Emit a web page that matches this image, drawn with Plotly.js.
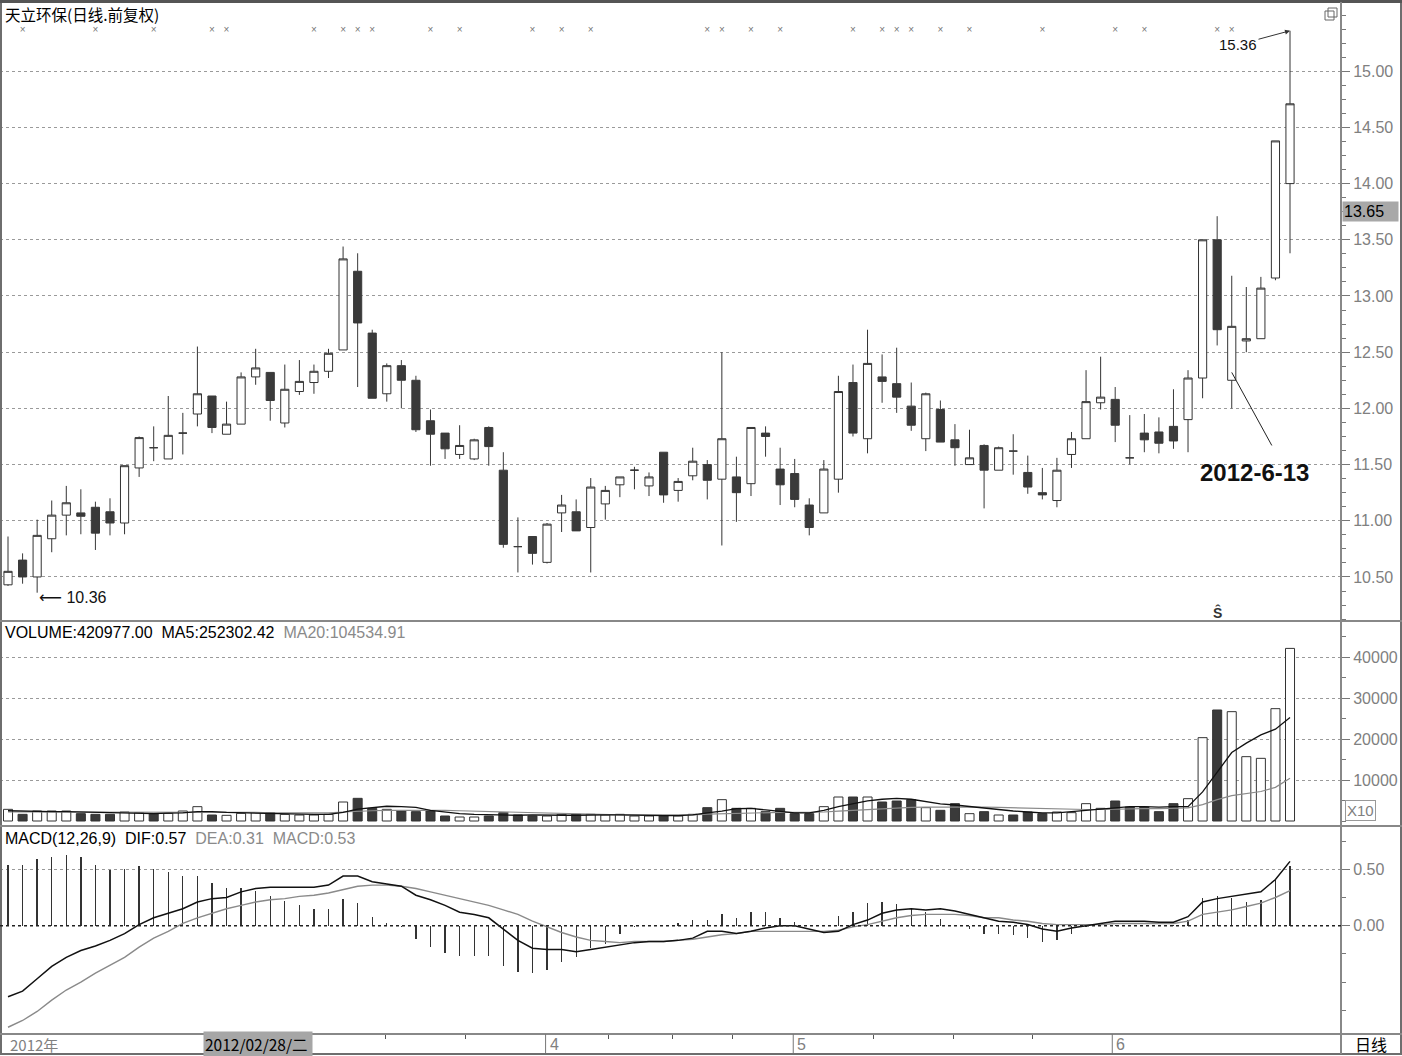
<!DOCTYPE html>
<html><head><meta charset="utf-8">
<script src="https://cdn.plot.ly/plotly-3.0.1.min.js"></script>
<style>html,body{margin:0;padding:0;background:#fff;}#chart{width:1402px;height:1056px;}</style>
</head><body><div id="chart"></div>
<script>
// ---- Data (天立环保 daily, 2012) ----
const openP  = [10.43,10.65,10.50,10.84,11.05,11.07,11.12,11.08,10.98,11.47,11.65,11.55,11.78,11.95,12.11,11.77,11.86,12.28,12.32,11.87,12.15,12.23,12.33,12.52,13.22,12.67,12.13,12.38,12.25,11.89,11.78,11.59,11.55,11.83,11.45,10.77,10.86,10.63,11.07,11.08,10.94,11.15,11.32,11.45,11.31,11.61,11.27,11.40,11.50,11.37,11.39,11.33,11.78,11.46,11.42,11.14,11.07,11.37,12.23,11.73,12.28,12.22,12.02,11.73,11.99,11.72,11.50,11.67,11.45,11.62,11.43,11.25,11.18,11.59,11.73,12.05,12.08,11.56,11.78,11.79,11.84,11.90,12.27,13.50,12.25,12.60,12.62,13.16,14.00];
const highP  = [10.86,10.71,11.01,11.18,11.31,11.28,11.17,11.20,11.49,11.75,11.84,12.11,11.96,12.55,12.11,12.06,12.32,12.53,12.32,12.39,12.43,12.39,12.53,13.44,13.38,12.70,12.40,12.43,12.29,11.99,11.78,11.85,11.73,11.84,11.61,11.03,10.86,10.98,11.23,11.19,11.38,11.31,11.39,11.48,11.43,11.61,11.38,11.65,11.54,12.50,11.57,11.83,11.84,11.65,11.55,11.20,11.54,12.29,12.39,12.70,12.48,12.54,12.23,12.14,12.07,11.86,11.81,11.68,11.66,11.77,11.58,11.47,11.56,11.79,12.34,12.46,12.19,11.94,11.95,11.92,12.17,12.34,13.50,13.71,13.18,13.08,13.17,14.38,15.36];
const lowP   = [10.42,10.44,10.36,10.72,10.87,10.88,10.74,10.87,10.88,11.39,11.53,11.55,11.59,11.84,11.78,11.77,11.86,12.21,11.89,11.83,12.12,12.13,12.27,12.52,12.19,12.09,12.06,12.00,11.79,11.49,11.55,11.55,11.54,11.49,10.76,10.54,10.61,10.62,10.90,10.91,10.54,11.01,11.21,11.28,11.22,11.16,11.17,11.36,11.19,10.78,10.99,11.22,11.57,11.14,11.12,10.87,11.07,11.25,11.75,11.60,12.05,11.96,11.80,11.62,11.70,11.49,11.50,11.11,11.45,11.41,11.24,11.19,11.12,11.47,11.73,11.99,11.70,11.50,11.61,11.60,11.64,11.61,12.09,12.56,12.00,12.50,12.62,13.14,13.38];
const closeP = [10.55,10.50,10.87,11.05,11.16,11.04,10.89,10.98,11.49,11.74,11.65,11.76,11.78,12.13,11.83,11.86,12.28,12.36,12.07,12.17,12.24,12.33,12.49,13.33,12.76,12.09,12.38,12.25,11.81,11.77,11.64,11.67,11.72,11.66,10.79,10.77,10.71,10.97,11.14,10.91,11.30,11.27,11.39,11.45,11.39,11.23,11.35,11.53,11.36,11.73,11.25,11.83,11.75,11.32,11.19,10.94,11.46,12.15,11.78,12.40,12.24,12.10,11.85,12.13,11.70,11.65,11.56,11.45,11.65,11.62,11.30,11.23,11.45,11.73,12.06,12.10,11.85,11.56,11.72,11.69,11.71,12.27,13.50,12.70,12.73,12.62,13.07,14.38,14.71];
// volume shown in the panel's X10 units
const volume = [2846,1626,2439,2439,2439,1789,1626,1626,2195,2033,1789,1870,2439,3496,1463,1382,1870,2033,2033,1626,1463,1463,1626,4634,5528,3089,2846,2439,2276,2439,1220,976,976,1220,2033,1463,1220,1220,1626,1626,1626,1463,1626,1220,1220,1220,1220,1626,3252,5203,3089,3089,2276,3089,1789,1789,3496,5854,5854,5854,4634,4878,5203,3252,2602,4228,1789,2276,1463,1463,2195,1789,2195,2033,4228,3089,4878,3415,3415,2276,4228,5447,20325,27073,26667,15691,15285,27398,42098];
const volMA5 = [2500,2400,2400,2300,2300,2200,2100,2000,1900,1800,1800,1900,2000,2300,2300,2100,2000,1900,1900,1800,1700,1600,1600,2100,2900,3300,3600,3500,3300,2600,2200,1800,1600,1500,1400,1400,1500,1400,1400,1400,1500,1500,1500,1400,1300,1300,1300,1500,2000,2400,3000,3100,2700,2400,2000,2000,2600,3500,4200,4900,5300,5500,5300,4700,4200,3900,3500,3250,2700,2440,2200,2000,2000,2280,2700,3000,3250,3500,3500,3400,3500,3500,7100,11900,16700,19000,21000,22400,25230];
const volMA20 = [2200,2200,2200,2200,2200,2200,2200,2100,2100,2100,2100,2100,2100,2100,2100,2100,2100,2100,2000,2000,2000,2000,2000,2200,2400,2500,2600,2600,2700,2700,2600,2500,2400,2300,2200,2100,2000,1900,1800,1700,1600,1600,1500,1500,1500,1500,1500,1500,1700,1800,1900,2000,2000,2100,2100,2100,2200,2400,2600,2800,3000,3100,3300,3400,3400,3500,3500,3400,3300,3200,3100,3000,2900,2800,2800,2800,2900,2900,3000,3000,3100,3200,4000,5200,6200,6700,7200,8200,10453];
const dif = [-0.63,-0.58,-0.47,-0.36,-0.28,-0.22,-0.18,-0.13,-0.07,0.01,0.07,0.11,0.15,0.21,0.24,0.25,0.30,0.33,0.34,0.34,0.34,0.34,0.36,0.44,0.44,0.39,0.37,0.35,0.27,0.23,0.18,0.12,0.10,0.07,-0.03,-0.13,-0.20,-0.21,-0.21,-0.23,-0.21,-0.19,-0.17,-0.15,-0.14,-0.14,-0.13,-0.11,-0.05,-0.05,-0.07,-0.05,-0.02,0.00,0.00,-0.03,-0.06,-0.05,0.01,0.05,0.11,0.14,0.15,0.14,0.15,0.13,0.10,0.07,0.04,0.03,0.01,-0.03,-0.05,-0.02,0.00,0.02,0.04,0.04,0.04,0.03,0.03,0.08,0.21,0.24,0.26,0.28,0.30,0.41,0.57];
const dea = [-0.90,-0.84,-0.76,-0.66,-0.57,-0.50,-0.42,-0.35,-0.28,-0.19,-0.11,-0.05,0.02,0.07,0.11,0.15,0.18,0.21,0.23,0.24,0.26,0.27,0.29,0.32,0.35,0.36,0.36,0.35,0.33,0.30,0.27,0.24,0.21,0.18,0.14,0.10,0.04,-0.01,-0.06,-0.10,-0.13,-0.14,-0.15,-0.14,-0.14,-0.14,-0.13,-0.12,-0.10,-0.08,-0.07,-0.05,-0.05,-0.05,-0.05,-0.05,-0.05,-0.04,-0.01,0.01,0.04,0.07,0.09,0.10,0.10,0.10,0.09,0.07,0.07,0.05,0.04,0.02,0.01,0.01,0.01,0.01,0.02,0.02,0.02,0.02,0.02,0.04,0.10,0.12,0.14,0.17,0.20,0.25,0.31];
const macdHist = [0.54,0.54,0.59,0.61,0.63,0.61,0.54,0.49,0.50,0.53,0.50,0.48,0.44,0.44,0.38,0.33,0.33,0.31,0.26,0.22,0.18,0.15,0.15,0.24,0.20,0.08,0.02,-0.01,-0.12,-0.19,-0.24,-0.27,-0.27,-0.27,-0.36,-0.41,-0.42,-0.39,-0.32,-0.28,-0.20,-0.16,-0.07,-0.01,0.01,0.00,0.02,0.05,0.05,0.10,0.07,0.12,0.12,0.07,0.03,0.00,0.00,0.09,0.12,0.20,0.21,0.19,0.15,0.12,0.06,0.01,-0.03,-0.07,-0.07,-0.08,-0.11,-0.14,-0.13,-0.07,-0.01,0.01,0.01,0.00,0.00,0.00,0.01,0.05,0.25,0.26,0.25,0.21,0.23,0.41,0.53];
// info-mine "×" markers (bar index)
const mineIdx = [1,6,10,14,15,21,23,24,25,29,31,36,38,40,48,49,51,53,58,60,61,62,64,66,71,76,78,83,84];
// axis ticks / labels
const priceTicks = [10.5,11,11.5,12,12.5,13,13.5,14,14.5,15];
const priceTickText = ['10.50','11.00','11.50','12.00','12.50','13.00','13.50','14.00','14.50','15.00'];
const volTicks = [10000,20000,30000,40000];
const volTickText = ['10000','20000','30000','40000'];
const macdTicks = [0,0.5];
const macdTickText = ['0.00','0.50'];
const weekTickPos = [25.9,31.4,41.2,45.6,49.7,59.4,64.9,70.3];
const monthTickPos = [36.9,53.9,75.8];
const monthTickText = ['4','5','6'];

// ---- helpers ----
const W = 1402, H = 1056;
const px = v => v / W;
const py = v => 1 - v / H;
const xIdx = openP.map((_, i) => i);
const isUp = closeP.map((c, i) => c > openP[i] || (c === openP[i] && i > 0 && c >= closeP[i - 1]));
const DARK = '#3a3a3a';
const FONT = 'Liberation Sans, Arial, sans-serif';
const CJK = 'Noto Sans CJK SC, sans-serif';
const GRAY = '#808080';

const traces = [
  {type:'candlestick', x:xIdx, open:openP, high:highP, low:lowP, close:closeP, xaxis:'x', yaxis:'y',
   increasing:{line:{color:'#333', width:1}, fillcolor:'#ffffff'},
   decreasing:{line:{color:DARK, width:1}, fillcolor:DARK},
   whiskerwidth:0, hoverinfo:'skip', showlegend:false},
  {type:'scatter', mode:'text', x:mineIdx, y:mineIdx.map(() => 15.36), text:mineIdx.map(() => '×'),
   textfont:{size:10, color:'#777', family:FONT}, xaxis:'x', yaxis:'y', hoverinfo:'skip', showlegend:false},
  {type:'bar', x:xIdx, y:volume, width:0.62, xaxis:'x', yaxis:'y2',
   marker:{color:isUp.map(u => u ? '#ffffff' : DARK), line:{color:'#333', width:1}},
   hoverinfo:'skip', showlegend:false},
  {type:'scatter', mode:'lines', x:xIdx, y:volMA20, line:{color:'#8a8a8a', width:1.2}, xaxis:'x', yaxis:'y2', hoverinfo:'skip', showlegend:false},
  {type:'scatter', mode:'lines', x:xIdx, y:volMA5, line:{color:'#111', width:1.3}, xaxis:'x', yaxis:'y2', hoverinfo:'skip', showlegend:false},
  {type:'bar', x:xIdx, y:macdHist, width:0.09, xaxis:'x', yaxis:'y3',
   marker:{color:'#333', line:{width:0}}, hoverinfo:'skip', showlegend:false},
  {type:'scatter', mode:'lines', x:xIdx, y:dea, line:{color:'#8a8a8a', width:1.4}, xaxis:'x', yaxis:'y3', hoverinfo:'skip', showlegend:false},
  {type:'scatter', mode:'lines', x:xIdx, y:dif, line:{color:'#111', width:1.5}, xaxis:'x', yaxis:'y3', hoverinfo:'skip', showlegend:false}
];

const yCommon = {side:'right', anchor:'x', ticks:'outside', ticklen:8, tickcolor:'#777', tickwidth:1,
  tickfont:{size:16, color:GRAY, family:FONT}, showgrid:true, gridcolor:'#9a9a9a', griddash:'dot', gridwidth:1,
  zeroline:false, showline:false, fixedrange:true};

const layout = {
  width:W, height:H, margin:{l:0, r:0, t:0, b:0},
  paper_bgcolor:'#ffffff', plot_bgcolor:'#ffffff',
  showlegend:false, bargap:0, boxgap:0.3, boxgroupgap:0.2,
  font:{family:FONT, size:16, color:'#000'},
  xaxis:{domain:[0, px(1341)], range:[-0.55, 91.5], anchor:'y3', showgrid:false, zeroline:false,
    showticklabels:false, ticks:'outside', tickvals:weekTickPos, ticklen:5, tickcolor:'#555',
    rangeslider:{visible:false}, fixedrange:true},
  yaxis:Object.assign({}, yCommon, {domain:[py(620), py(3)], range:[10.117, 15.607],
    tickvals:priceTicks, ticktext:priceTickText,
    minor:{ticks:'outside', ticklen:4, dtick:0.125, tickcolor:'#777', showgrid:false}}),
  yaxis2:Object.assign({}, yCommon, {domain:[py(825), py(622)], range:[-976, 48537],
    tickvals:volTicks, ticktext:volTickText,
    minor:{ticks:'outside', ticklen:4, dtick:5000, tickcolor:'#777', showgrid:false}}),
  yaxis3:Object.assign({}, yCommon, {domain:[py(1033), py(828)], range:[-0.951, 0.866],
    tickvals:macdTicks, ticktext:macdTickText,
    minor:{ticks:'outside', ticklen:4, dtick:0.25, tickcolor:'#777', showgrid:false}}),
  shapes:[
    {type:'rect', xref:'paper', yref:'paper', x0:px(1), x1:px(1401), y0:py(1054), y1:py(1.5), line:{color:'#6e6e6e', width:2}},
    {type:'line', xref:'paper', yref:'paper', x0:0, x1:1, y0:py(1.5), y1:py(1.5), line:{color:'#555', width:3}},
    {type:'line', xref:'paper', yref:'paper', x0:px(1341), x1:px(1341), y0:py(1054), y1:py(2), line:{color:'#888', width:2}},
    {type:'line', xref:'paper', yref:'paper', x0:0, x1:1, y0:py(621), y1:py(621), line:{color:'#888', width:2}},
    {type:'line', xref:'paper', yref:'paper', x0:0, x1:1, y0:py(826), y1:py(826), line:{color:'#888', width:2}},
    {type:'line', xref:'paper', yref:'paper', x0:0, x1:1, y0:py(1034), y1:py(1034), line:{color:'#888', width:2}},
    {type:'line', xref:'paper', yref:'y3', x0:0, x1:px(1341), y0:0, y1:0, line:{color:'#222', width:1.5, dash:'dot'}},
    ...monthTickPos.map(p => ({type:'line', xref:'x', yref:'paper', x0:p, x1:p, y0:py(1053), y1:py(1034), line:{color:'#777', width:1}})),
    {type:'line', xref:'x', yref:'y', x0:84, y0:12.32, x1:86.75, y1:11.67, line:{color:'#222', width:1}},
    {type:'rect', xref:'paper', yref:'paper', x0:px(1325), x1:px(1334), y0:py(20), y1:py(11), line:{color:'#666', width:1}, fillcolor:'#fff'},
    {type:'rect', xref:'paper', yref:'paper', x0:px(1328), x1:px(1337), y0:py(17), y1:py(8), line:{color:'#666', width:1}, fillcolor:'rgba(0,0,0,0)'}
  ],
  annotations:[
    {xref:'paper', yref:'paper', x:px(3), y:py(14), xanchor:'left', yanchor:'middle', showarrow:false,
     text:'天立环保(日线.前复权)', font:{family:CJK, size:15.5, color:'#000'}, height:20, valign:'middle'},
    {xref:'paper', yref:'paper', x:px(3), y:py(632), xanchor:'left', yanchor:'middle', showarrow:false,
     text:'VOLUME:420977.00  MA5:252302.42  <span style="color:#8a8a8a">MA20:104534.91</span>', font:{family:FONT, size:16, color:'#000'}},
    {xref:'paper', yref:'paper', x:px(3), y:py(838), xanchor:'left', yanchor:'middle', showarrow:false,
     text:'MACD(12,26,9)  DIF:0.57  <span style="color:#8a8a8a">DEA:0.31  MACD:0.53</span>', font:{family:FONT, size:16, color:'#000'}},
    {xref:'paper', yref:'paper', x:px(8), y:py(1044), xanchor:'left', yanchor:'middle', showarrow:false,
     text:'2012年', font:{family:CJK, size:15, color:GRAY}},
    ...monthTickPos.map((p, i) => ({xref:'x', yref:'paper', x:p, y:py(1044), xanchor:'left', yanchor:'middle', showarrow:false,
     xshift:2, text:monthTickText[i], font:{family:FONT, size:16, color:GRAY}})),
    {xref:'paper', yref:'paper', x:px(203), y:py(1044), xanchor:'left', yanchor:'middle', showarrow:false,
     text:'2012/02/28/二 ', font:{family:CJK, size:15.5, color:'#000'}, bgcolor:'#a6a6a6', borderpad:1},
    {xref:'paper', yref:'paper', x:px(1371), y:py(1044), xanchor:'center', yanchor:'middle', showarrow:false,
     text:'日线', font:{family:CJK, size:16, color:'#000'}},
    {xref:'paper', yref:'paper', x:px(1360), y:py(810), xanchor:'center', yanchor:'middle', showarrow:false,
     text:'X10', font:{family:FONT, size:15, color:GRAY}, bordercolor:'#999', borderwidth:1, borderpad:1},
    {xref:'paper', yref:'paper', x:px(1342), y:py(211), xanchor:'left', yanchor:'middle', showarrow:false,
     text:'13.65   ', font:{family:FONT, size:16, color:'#000'}, bgcolor:'#a8a8a8', borderpad:1},
    {xref:'x', yref:'y', x:2, y:10.315, xanchor:'left', yanchor:'middle', showarrow:false,
     text:'<span style="font-family:DejaVu Sans">⟵</span> 10.36', font:{family:FONT, size:16, color:'#111'}},
    {xref:'x', yref:'y', x:88, y:15.36, showarrow:true, arrowhead:2, arrowsize:1, arrowwidth:1, arrowcolor:'#333',
     ax:-52, ay:14, axref:'pixel', ayref:'pixel', text:'15.36', font:{family:FONT, size:15, color:'#111'}},
    {xref:'paper', yref:'paper', x:px(1254), y:py(472), xanchor:'center', yanchor:'middle', showarrow:false,
     text:'<b>2012-6-13</b>', font:{family:FONT, size:24, color:'#111'}},
    {xref:'x', yref:'paper', x:83, y:py(612), xanchor:'center', yanchor:'middle', showarrow:false,
     text:'<b>Ŝ</b>', font:{family:FONT, size:14, color:'#333'}}
  ]
};

Plotly.newPlot('chart', traces, layout, {displayModeBar:false, staticPlot:true});
</script></body></html>
